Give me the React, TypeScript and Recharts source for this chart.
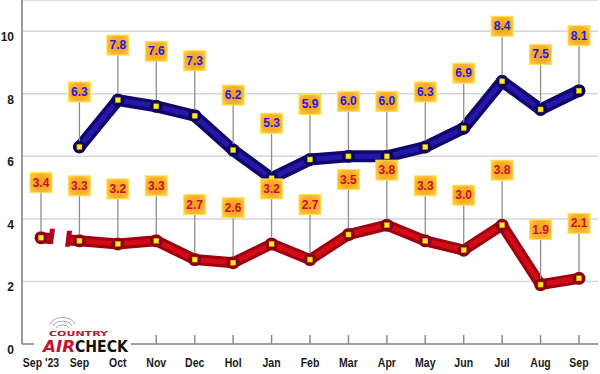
import { LineChart, Line, XAxis, YAxis, CartesianGrid, LabelList } from "recharts";

const MONTHS = ["Sep '23", "Sep", "Oct", "Nov", "Dec", "Hol", "Jan", "Feb", "Mar", "Apr", "May", "Jun", "Jul", "Aug", "Sep"];
const BLUE_VALUES = [null, 6.3, 7.8, 7.6, 7.3, 6.2, 5.3, 5.9, 6.0, 6.0, 6.3, 6.9, 8.4, 7.5, 8.1];
const RED_VALUES = [3.4, 3.3, 3.2, 3.3, 2.7, 2.6, 3.2, 2.7, 3.5, 3.8, 3.3, 3.0, 3.8, 1.9, 2.1];
const Y_TICKS = [0, 2, 4, 6, 8, 10];

const data = MONTHS.map((m, i) => ({ month: m, blue: BLUE_VALUES[i], red: RED_VALUES[i] }));

const FONT = "'Liberation Sans', Arial, sans-serif";

const XTick = ({ x, y, payload }: any) => (
  <g>
    <line x1={x} y1={y - 9} x2={x} y2={y} stroke="#8a8a8a" strokeWidth={1.5} />
    <g transform={`translate(${x}, ${y + 23}) scale(0.78, 1)`}>
      <text x={0} y={0} textAnchor="middle" fontFamily={FONT} fontWeight={700} fontSize={13.5} fill="#1a1a1a">
        {payload.value}
      </text>
    </g>
  </g>
);

const YTick = ({ x, y, payload }: any) => (
  <text x={x} y={y + 10} textAnchor="end" fontFamily={FONT} fontWeight={700} fontSize={12} fill="#1a1a1a">
    {payload.value}
  </text>
);

const makeLabel = (color: string) => (props: any) => {
  const { x, y, value } = props;
  if (value == null) return null;
  const bottom = y - 45;
  return (
    <g>
      <line x1={x} y1={bottom} x2={x} y2={y - 6} stroke="#8f8f8f" strokeWidth={1.3} />
      <rect x={x - 11} y={bottom - 20} width={22} height={20} fill="url(#boxGrad)" stroke="#ffe055" strokeWidth={1} />
      <text x={x} y={bottom - 6} textAnchor="middle" fontFamily={FONT} fontWeight={700} fontSize={12} fill={color}>
        {value.toFixed(1)}
      </text>
    </g>
  );
};

const makeDot = (dark: string, withBreak: boolean) => (props: any) => {
  const { cx, cy, index, value } = props;
  if (value == null || cx == null) return <g key={`d-${index}`} />;
  return (
    <g key={`d-${index}`}>
      <circle cx={cx} cy={cy} r={6.5} fill={dark} />
      <rect x={cx - 2.5} y={cy - 2.5} width={5} height={5} fill="#ffee22" stroke="#c9a400" strokeWidth={0.5} />
      {withBreak && index === 0 && (
        <g>
          <polygon points={`${cx + 13},${cy - 10} ${cx + 27},${cy - 10} ${cx + 25},${cy + 12} ${cx + 11},${cy + 12}`} fill="#ffffff" />
          <polygon points={`${cx + 9},${cy - 9} ${cx + 14},${cy - 9} ${cx + 12},${cy + 6} ${cx + 7},${cy + 6}`} fill="#b3001b" />
          <polygon points={`${cx + 26},${cy - 7} ${cx + 31},${cy - 7} ${cx + 29},${cy + 9} ${cx + 24},${cy + 9}`} fill="#b3001b" />
        </g>
      )}
    </g>
  );
};

export default function App() {
  return (
    <div style={{ position: "absolute", left: 0, top: 0, width: 600, height: 374, background: "#fff" }}>
      <LineChart width={600} height={374} data={data} margin={{ top: 0, right: 2, left: 0, bottom: 0 }}>
        <defs>
          <radialGradient id="boxGrad" cx="50%" cy="50%" r="70%">
            <stop offset="0%" stopColor="#f59a1c" />
            <stop offset="60%" stopColor="#f9b22a" />
            <stop offset="100%" stopColor="#ffd84a" />
          </radialGradient>
        </defs>
        <CartesianGrid horizontal vertical={false} stroke="#d6d6d6" strokeWidth={1.5} />
        <XAxis
          dataKey="month"
          height={30}
          padding={{ left: 19, right: 19 }}
          axisLine={{ stroke: "#8a8a8a", strokeWidth: 1.5 }}
          tickLine={false}
          tickSize={0}
          tickMargin={0}
          interval={0}
          tick={<XTick />}
        />
        <YAxis
          width={22}
          domain={[0, 11]}
          ticks={Y_TICKS}
          axisLine={{ stroke: "#9a9a9a", strokeWidth: 2 }}
          tickLine={false}
          tickSize={0}
          tickMargin={8}
          tick={<YTick />}
        />
        <Line dataKey="red" stroke="#9e0010" strokeWidth={11} strokeLinecap="round" strokeLinejoin="round" dot={false} isAnimationActive={false} />
        <Line dataKey="red" stroke="#d10c14" strokeWidth={5} strokeLinecap="round" strokeLinejoin="round" dot={makeDot("#8c0012", true)} isAnimationActive={false}>
          <LabelList dataKey="red" content={makeLabel("#c8102e")} />
        </Line>
        <Line dataKey="blue" stroke="#120770" strokeWidth={12} strokeLinecap="round" strokeLinejoin="round" dot={false} isAnimationActive={false} />
        <Line dataKey="blue" stroke="#2618a6" strokeWidth={5} strokeLinecap="round" strokeLinejoin="round" dot={makeDot("#0c0560", false)} isAnimationActive={false}>
          <LabelList dataKey="blue" content={makeLabel("#1c1ce0")} />
        </Line>
      </LineChart>
      <svg width={600} height={374} style={{ position: "absolute", left: 0, top: 0, pointerEvents: "none" }}>
        <rect x={34} y={318} width={97} height={35} fill="#fff" />
        <path d="M 56 328 A 7 5 0 0 1 69 328" fill="none" stroke="#a8a8a8" strokeWidth={1} />
        <path d="M 53 326 A 10 7 0 0 1 72 326" fill="none" stroke="#a8a8a8" strokeWidth={1} />
        <path d="M 50 324 A 13 9 0 0 1 75 324" fill="none" stroke="#a8a8a8" strokeWidth={1} />
        <text x={49} y={335.5} fontFamily="'DejaVu Sans', sans-serif" fontWeight={700} fontSize={7} fill="#c8102e" textLength={59} lengthAdjust="spacingAndGlyphs">
          COUNTRY
        </text>
        <text y={352} fontFamily="'DejaVu Sans', sans-serif" fontWeight={900} fontSize={15}>
          <tspan x={43} fill="#c8102e" fontStyle="italic" textLength={32} lengthAdjust="spacingAndGlyphs">AIR</tspan>
          <tspan x={75} fill="#111" textLength={53} lengthAdjust="spacingAndGlyphs">CHECK</tspan>
        </text>
      </svg>
    </div>
  );
}
